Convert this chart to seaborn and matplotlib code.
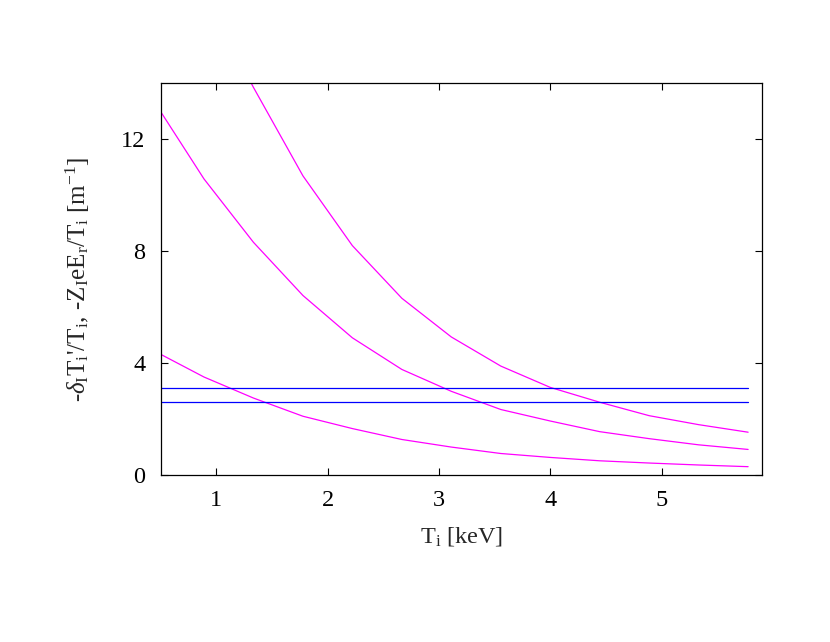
import numpy as np
import pandas as pd
import matplotlib
matplotlib.use("Agg")
import matplotlib.pyplot as plt
import seaborn as sns

# Ion temperature grid [keV]
ti = [0.5, 0.889, 1.333, 1.778, 2.222, 2.667, 3.111, 3.556, 4.0, 4.444, 4.889, 5.333, 5.778]

# -delta_I Ti'/Ti curves
curve_high = [21.0, 17.2, 13.84, 10.68, 8.19, 6.31, 4.93, 3.89, 3.13, 2.60, 2.12, 1.80, 1.53]
curve_mid = [12.97, 10.57, 8.31, 6.41, 4.90, 3.77, 2.99, 2.34, 1.93, 1.55, 1.30, 1.08, 0.915]
curve_low = [4.31, 3.50, 2.75, 2.10, 1.66, 1.27, 1.00, 0.77, 0.63, 0.51, 0.43, 0.36, 0.30]

# -Z_I e E_r / Ti levels
er_levels = [3.11, 2.60]

sns.set_style("ticks")
plt.rcParams['font.family'] = ['Liberation Serif', 'DejaVu Serif']
plt.rcParams['mathtext.fontset'] = 'custom'
plt.rcParams['mathtext.rm'] = 'Liberation Serif'
plt.rcParams['mathtext.it'] = 'Liberation Serif:italic'

# Long-format table for seaborn
rows = []
for name, vals in [("high", curve_high), ("mid", curve_mid), ("low", curve_low)]:
    for x, y in zip(ti, vals):
        rows.append({"Ti": x, "val": y, "curve": name})
for i, lev in enumerate(er_levels):
    for x in ti:
        rows.append({"Ti": x, "val": lev, "curve": f"er{i}"})
df = pd.DataFrame(rows)

palette = {"high": "#ff00ff", "mid": "#ff00ff", "low": "#ff00ff",
           "er0": "#0000ff", "er1": "#0000ff"}

fig = plt.figure(figsize=(8.3, 6.42), dpi=100)
ax = fig.add_axes([0.1936, 0.260, 0.7241, 0.611])

sns.lineplot(data=df, x="Ti", y="val", hue="curve", palette=palette,
             estimator=None, sort=False, linewidth=0.9, legend=False, ax=ax)

ax.set_xlim(0.5, 5.9)
ax.set_ylim(0, 14)
ax.set_xticks([1, 2, 3, 4, 5])
ax.set_yticks([0, 4, 8, 12])
ax.tick_params(direction="in", length=5, width=0.8, top=True, right=True,
               labelsize=17.5, pad=11, colors="black")
for s in ax.spines.values():
    s.set_linewidth(0.9)
    s.set_color("black")

ax.set_xlabel(r"T$_{\mathrm{i}}$ [keV]", fontsize=17.5, labelpad=10)
ax.set_ylabel(r"-$\delta_{\mathrm{I}}$T$_{\mathrm{i}}$'/T$_{\mathrm{i}}$, "
              r"-Z$_{\mathrm{I}}$eE$_{\mathrm{r}}$/T$_{\mathrm{i}}$ [m$^{\mathrm{-1}}$]",
              fontsize=18, labelpad=21)

fig.savefig("out.png", dpi=100)
